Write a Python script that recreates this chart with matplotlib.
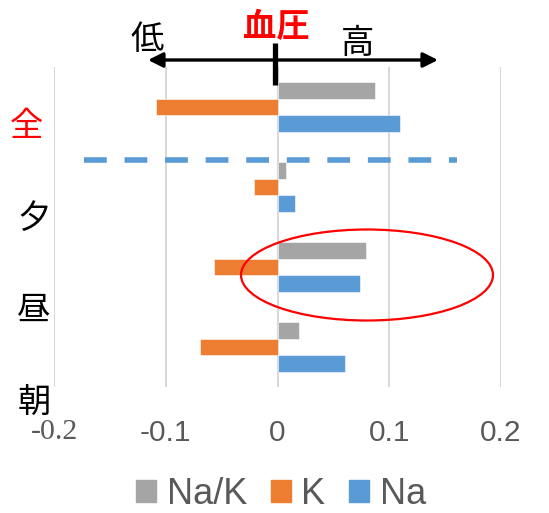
import matplotlib
matplotlib.use("Agg")
import matplotlib.pyplot as plt
from matplotlib.patches import Ellipse, FancyArrowPatch, Patch
from matplotlib.lines import Line2D
import numpy as np

# Regression coefficients per time of day
categories = ["朝", "昼", "夕", "全"]
na_k = [0.019, 0.079, 0.008, 0.087]
k = [-0.069, -0.057, -0.021, -0.109]
na = [0.060, 0.074, 0.016, 0.110]
xticks = [-0.2, -0.1, 0, 0.1, 0.2]
xtick_labels = ["-0.2", "-0.1", "0", "0.1", "0.2"]

W, H = 549, 513
fig = plt.figure(figsize=(W / 100, H / 100), dpi=100)


def fx(px):
    return px / W


def fy(py):
    return 1 - py / H


ax = fig.add_axes([fx(54), fy(387), fx(501) - fx(54), fy(67) - fy(387)])

col_nak = "#A5A5A5"
col_k = "#ED7D31"
col_na = "#5B9BD5"
h = 0.205
y = np.arange(len(categories))

ax.barh(y + h, na_k, height=h, color=col_nak, edgecolor="white", linewidth=0.4, zorder=3)
ax.barh(y, k, height=h, color=col_k, edgecolor="white", linewidth=0.4, zorder=3)
ax.barh(y - h, na, height=h, color=col_na, edgecolor="white", linewidth=0.4, zorder=3)

ax.set_xlim(-0.2, 0.2)
ax.set_ylim(-0.5, 3.5)
ax.set_xticks(xticks)
ax.set_xticklabels(xtick_labels, fontsize=21.5, color="#595959", family="Liberation Sans")
ax.tick_params(axis="x", length=0, pad=23)
ax.set_yticks([])
for s in ax.spines.values():
    s.set_visible(False)
ax.xaxis.grid(True, color="#D9D9D9", linewidth=1.5, zorder=0)
ax.set_axisbelow(True)

# category labels
cjk = ["Noto Sans CJK JP", "DejaVu Sans"]
label_pos = {"全": (26, 126), "夕": (34, 218), "昼": (34, 310), "朝": (34, 402)}
for c in categories:
    px, py = label_pos[c]
    fig.text(fx(px), fy(py), c, fontsize=24, family=cjk, ha="center", va="center",
             color="red" if c == "全" else "black", zorder=6)

# blood pressure direction arrow
arrow = FancyArrowPatch((fx(148), fy(60)), (fx(438), fy(60)), transform=fig.transFigure,
                        arrowstyle="<|-|>", mutation_scale=22, linewidth=2.4,
                        color="black", shrinkA=0, shrinkB=0)
fig.add_artist(arrow)
fig.add_artist(Line2D([fx(275), fx(275)], [fy(43), fy(85)], transform=fig.transFigure,
                      color="black", linewidth=3.8, solid_capstyle="butt"))
fig.text(fx(147), fy(40), "低", fontsize=24, family=cjk, ha="center", va="center")
fig.text(fx(358), fy(44), "高", fontsize=24, family=cjk, ha="center", va="center")
fig.text(fx(276), fy(28), "血圧", fontsize=24, family=cjk, ha="center", va="center",
         color="red", fontweight="bold")

# separator between overall and per-meal results
fig.add_artist(Line2D([fx(84), fx(457)], [fy(160), fy(160)], transform=fig.transFigure,
                      color=col_na, linewidth=4.0, linestyle=(0, (4.1, 3.2)),
                      dash_capstyle="butt"))

# highlight around midday Na/K and Na
fig.add_artist(Ellipse((fx(367), fy(275)), 252 / W, 91 / H, transform=fig.transFigure,
                       fill=False, edgecolor="red", linewidth=1.6, zorder=5))

handles = [Patch(color=col_nak, label="Na/K"), Patch(color=col_k, label="K"),
           Patch(color=col_na, label="Na")]
leg = fig.legend(handles=handles, loc="center", bbox_to_anchor=(fx(281), fy(494)),
                 ncol=3, frameon=False, handlelength=0.55, handleheight=0.55,
                 handletextpad=0.3, columnspacing=0.65, borderpad=0,
                 prop={"family": "Liberation Sans", "size": 26})
for t in leg.get_texts():
    t.set_color("#595959")

# the leftmost tick label is set in a serif face
fig.canvas.draw()
ax.get_xticklabels()[0].set_family("Liberation Serif")

fig.savefig("out.png", dpi=100)
